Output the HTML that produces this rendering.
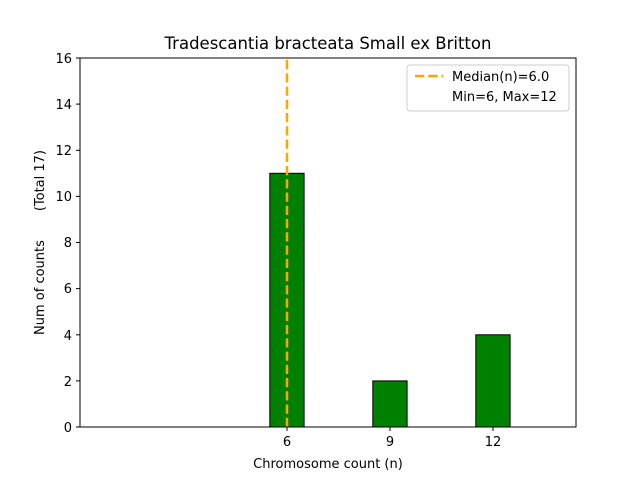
<!DOCTYPE html>
<html><head><meta charset="utf-8"><style>body{margin:0;background:#fff}</style></head><body>
<svg width="640" height="480" xmlns="http://www.w3.org/2000/svg" font-family="'DejaVu Sans', sans-serif">
<rect width="640" height="480" fill="#fff"/>
<rect x="269.8" y="173.3" width="34.3" height="253.7" fill="green" stroke="#000" stroke-width="1"/>
<rect x="372.8" y="380.9" width="34.3" height="46.1" fill="green" stroke="#000" stroke-width="1"/>
<rect x="475.8" y="334.8" width="34.3" height="92.2" fill="green" stroke="#000" stroke-width="1"/>
<line x1="287" y1="427" x2="287" y2="58" stroke="orange" stroke-width="2.5" stroke-dasharray="9.25,4"/>
<rect x="80" y="58" width="496" height="369" fill="none" stroke="#000" stroke-width="1"/>
<g stroke="#000">
<line x1="287" y1="427" x2="287" y2="431"/><line x1="390" y1="427" x2="390" y2="431"/><line x1="493" y1="427" x2="493" y2="431"/>
<line x1="76" y1="427" x2="80" y2="427"/><line x1="76" y1="380.9" x2="80" y2="380.9"/><line x1="76" y1="334.8" x2="80" y2="334.8"/><line x1="76" y1="288.6" x2="80" y2="288.6"/><line x1="76" y1="242.5" x2="80" y2="242.5"/><line x1="76" y1="196.4" x2="80" y2="196.4"/><line x1="76" y1="150.3" x2="80" y2="150.3"/><line x1="76" y1="104.1" x2="80" y2="104.1"/><line x1="76" y1="58" x2="80" y2="58"/>
</g>
<g font-size="13" fill="#000" text-anchor="middle">
<text x="287" y="446">6</text><text x="390" y="446">9</text><text x="493" y="446">12</text>
</g>
<g font-size="13" fill="#000" text-anchor="end">
<text x="72" y="432">0</text><text x="72" y="386">2</text><text x="72" y="340">4</text><text x="72" y="293">6</text><text x="72" y="247">8</text><text x="72" y="201">10</text><text x="72" y="155">12</text><text x="72" y="109">14</text><text x="72" y="63">16</text>
</g>
<text x="328" y="468" font-size="13" text-anchor="middle">Chromosome count (n)</text>
<text transform="translate(44,242.5) rotate(-90)" font-size="13" text-anchor="middle" style="white-space:pre" xml:space="preserve">Num of counts       (Total 17)</text>
<text x="328" y="49" font-size="16.5" text-anchor="middle">Tradescantia bracteata Small ex Britton</text>
<rect x="407" y="65" width="162" height="46" rx="3" fill="#fff" stroke="#ccc"/>
<line x1="415" y1="76" x2="443" y2="76" stroke="orange" stroke-width="2.5" stroke-dasharray="9.25,4"/>
<text x="452" y="81" font-size="13">Median(n)=6.0</text>
<text x="452" y="101" font-size="13">Min=6, Max=12</text>
</svg>
</body></html>
